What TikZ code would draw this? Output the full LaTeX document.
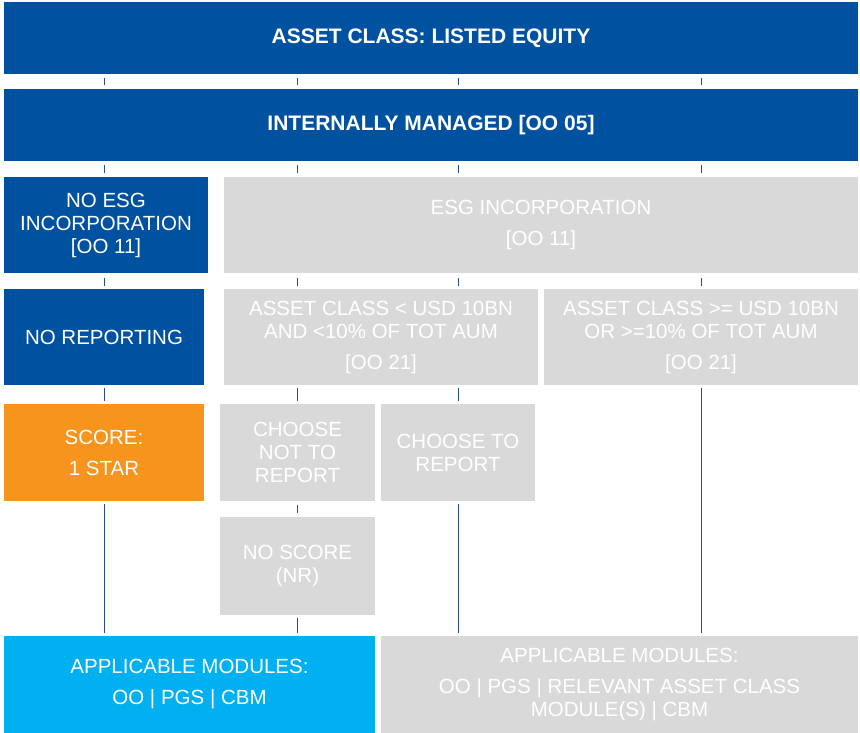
\documentclass[tikz,border=0pt]{standalone}
\usepackage{fontspec}
\setmainfont{Liberation Sans}
\definecolor{pridark}{RGB}{0,81,160}
\definecolor{prigray}{RGB}{217,217,217}
\definecolor{priorange}{RGB}{247,148,30}
\definecolor{prilight}{RGB}{0,176,240}
\definecolor{priline}{RGB}{38,78,140}
\tikzset{
  box/.style={rectangle, inner sep=0pt, outer sep=0pt, text=white, align=center,
    font={\fontsize{20.5}{23}\selectfont}},
  headbox/.style={box, fill=pridark, font={\fontsize{21}{24}\selectfont\bfseries}},
  bluebox/.style={box, fill=pridark},
  graybox/.style={box, fill=prigray},
  orangebox/.style={box, fill=priorange},
  lightbox/.style={box, fill=prilight},
  link/.style={draw=priline, line width=1pt},
}
\begin{document}
\begin{tikzpicture}[x=1pt, y=-1pt]
\useasboundingbox (0,0) rectangle (860,733);
% row 1 and 2
\node[headbox, minimum width=854pt, minimum height=72pt] (top) at (431,38) {\raisebox{-1.5pt}{ASSET CLASS: LISTED EQUITY}};
\node[headbox, minimum width=854pt, minimum height=72pt] (im) at (431,125) {\raisebox{-1.5pt}{INTERNALLY MANAGED [OO 05]}};
% row 3
\node[bluebox, minimum width=204pt, minimum height=96pt] (noesg) at (106,225) {NO ESG\\INCORPORATION\\{}[OO 11]};
\node[graybox, minimum width=634pt, minimum height=96pt] (esg) at (541,225) {ESG INCORPORATION\\[8pt][OO 11]};
% row 4
\node[bluebox, minimum width=200pt, minimum height=96pt] (norep) at (104,337) {NO REPORTING};
\node[graybox, minimum width=314pt, minimum height=96pt] (small) at (381,337) {ASSET CLASS < USD 10BN\\AND <10\% OF TOT AUM\\[8pt][OO 21]};
\node[graybox, minimum width=314pt, minimum height=96pt] (large) at (701,337) {ASSET CLASS >= USD 10BN\\OR >=10\% OF TOT AUM\\[8pt][OO 21]};
% row 5
\node[orangebox, minimum width=200pt, minimum height=97pt] (score) at (104,452.5) {SCORE:\\[8pt]1 STAR};
\node[graybox, minimum width=155pt, minimum height=97pt] (notrep) at (297.5,452.5) {CHOOSE\\NOT TO\\REPORT};
\node[graybox, minimum width=154pt, minimum height=97pt] (rep) at (458,452.5) {CHOOSE TO\\REPORT};
% row 6
\node[graybox, minimum width=155pt, minimum height=98pt] (nosc) at (297.5,566) {NO SCORE\\(NR)};
% row 7
\node[lightbox, minimum width=371pt, minimum height=97pt] (appA) at (189.5,684.5) {APPLICABLE MODULES:\\[8pt]OO | PGS | CBM};
\node[graybox, minimum width=477pt, minimum height=97pt] (appB) at (619.5,684.5) {APPLICABLE MODULES:\\[8pt]OO | PGS | RELEVANT ASSET CLASS\\MODULE(S) | CBM};
% connectors between row 1 and row 2
\foreach \c in {norep,notrep,rep,large}
  \draw[link, shorten <=4pt, shorten >=3.5pt] (top.south -| \c) -- (im.north -| \c);
% row 2 to row 3
\draw[link, shorten <=4pt, shorten >=4pt] (im.south -| norep) -- (noesg.north -| norep);
\foreach \c in {notrep,rep,large}
  \draw[link, shorten <=4pt, shorten >=4pt] (im.south -| \c) -- (esg.north -| \c);
% row 3 to row 4
\draw[link, shorten <=4.5pt, shorten >=3.5pt] (noesg.south -| norep) -- (norep.north);
\foreach \c in {notrep,rep}
  \draw[link, shorten <=4.5pt, shorten >=3.5pt] (esg.south -| \c) -- (small.north -| \c);
\draw[link, shorten <=4.5pt, shorten >=3.5pt] (esg.south -| large) -- (large.north);
% row 4 to row 5
\draw[link, shorten <=3pt, shorten >=3pt] (norep.south) -- (score.north);
\draw[link, shorten <=3pt, shorten >=3pt] (small.south -| notrep) -- (notrep.north);
\draw[link, shorten <=3pt, shorten >=3pt] (small.south -| rep) -- (rep.north);
% row 5 to row 6
\draw[link, shorten <=4pt, shorten >=4pt] (notrep.south) -- (nosc.north);
% long lines to the modules
\draw[link, shorten <=3pt, shorten >=3pt] (score.south) -- (appA.north -| score);
\draw[link, shorten <=3pt, shorten >=3pt] (nosc.south) -- (appA.north -| nosc);
\draw[link, shorten <=3pt, shorten >=3pt] (rep.south) -- (appB.north -| rep);
\draw[link, shorten <=3pt, shorten >=3pt] (large.south) -- (appB.north -| large);
\end{tikzpicture}
\end{document}
